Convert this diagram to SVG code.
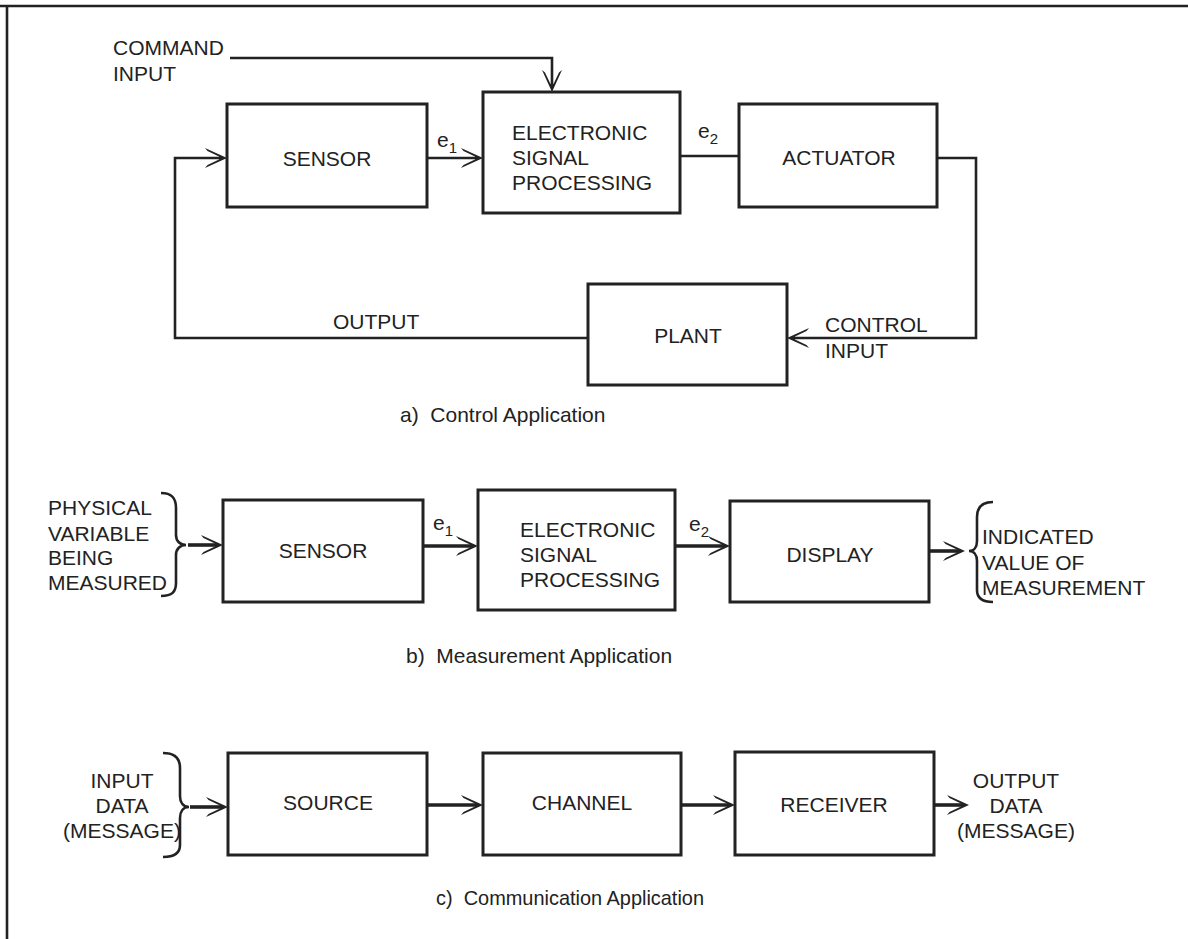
<svg xmlns="http://www.w3.org/2000/svg" width="1188" height="939" viewBox="0 0 1188 939">
<style>
text{font-family:"Liberation Sans",Arial,sans-serif;font-size:21px;fill:#222}
.cap{white-space:pre}
.box{fill:none;stroke:#222;stroke-width:3}
.ln{fill:none;stroke:#222;stroke-width:2.6}
.thk{stroke-width:3.6}
.br{fill:none;stroke:#222;stroke-width:2.6}
.sub{font-size:15px}
.c{text-anchor:middle}
</style>
<defs>
<marker id="ah" markerUnits="userSpaceOnUse" viewBox="-24 -12 26 24" markerWidth="26" markerHeight="24" refX="-6" refY="0" orient="auto">
<path d="M0,0 L-22,-10 L-19.5,-7 L-8,-1.5 L-8,1.5 L-19.5,7 L-22,10 Z" fill="#222"/>
</marker>
</defs>
<rect width="1188" height="939" fill="#fff"/>
<g id="frame" class="ln"><path d="M0,6 H1188 M7,6 V939"/></g>

<g id="connectors">
<path class="ln" d="M230,58 H552 V86" marker-end="url(#ah)"/>
<path class="ln" d="M427,158 H477" marker-end="url(#ah)"/>
<path class="ln" d="M680,156 H739"/>
<path class="ln" d="M937,158 H976 V338 H793" marker-end="url(#ah)"/>
<path class="ln" d="M588,338 H175 V158 H221" marker-end="url(#ah)"/>
<path class="ln thk" d="M188,545 H217" marker-end="url(#ah)"/>
<path class="ln thk" d="M423,546 H472" marker-end="url(#ah)"/>
<path class="ln thk" d="M675,546 H724" marker-end="url(#ah)"/>
<path class="ln thk" d="M929,551 H959" marker-end="url(#ah)"/>
<path class="ln thk" d="M190,807 H222" marker-end="url(#ah)"/>
<path class="ln thk" d="M427,805 H477" marker-end="url(#ah)"/>
<path class="ln thk" d="M681,805 H729" marker-end="url(#ah)"/>
<path class="ln thk" d="M934,805 H963" marker-end="url(#ah)"/>
</g>

<g id="labels-a">
<text x="113" y="55">COMMAND</text>
<text x="113" y="81">INPUT</text>
<text x="437" y="147">e<tspan class="sub" dy="6">1</tspan></text>
<text x="698" y="138">e<tspan class="sub" dy="6">2</tspan></text>
<text x="333" y="329">OUTPUT</text>
<text x="825" y="332">CONTROL</text>
<text x="825" y="358">INPUT</text>
<text class="cap" x="400" y="422">a)  Control Application</text>
</g>

<g id="sensor-a"><rect class="box" x="227" y="104" width="200" height="103"/><text class="c" x="327" y="166">SENSOR</text></g>
<g id="esp-a"><rect class="box" x="483" y="92" width="197" height="121"/><text x="512" y="140">ELECTRONIC</text><text x="512" y="165">SIGNAL</text><text x="512" y="190">PROCESSING</text></g>
<g id="actuator-a"><rect class="box" x="739" y="104" width="198" height="103"/><text class="c" x="839" y="165">ACTUATOR</text></g>
<g id="plant-a"><rect class="box" x="588" y="284" width="199" height="101"/><text class="c" x="688" y="343">PLANT</text></g>

<g id="input-b">
<text x="48" y="515">PHYSICAL</text>
<text x="48" y="541">VARIABLE</text>
<text x="48" y="565">BEING</text>
<text x="48" y="590">MEASURED</text>
<path class="br" d="M161,493 C172,493 176,498 176,508 L176,535 C176,541 180,545 186,545 C180,545 176,549 176,555 L176,583 C176,592 172,596 161,596"/>
</g>
<g id="sensor-b"><rect class="box" x="223" y="500" width="200" height="102"/><text class="c" x="323" y="558">SENSOR</text></g>
<g id="esp-b"><rect class="box" x="478" y="490" width="197" height="120"/><text x="520" y="537">ELECTRONIC</text><text x="520" y="562">SIGNAL</text><text x="520" y="587">PROCESSING</text></g>
<g id="display-b"><rect class="box" x="730" y="501" width="199" height="101"/><text class="c" x="830" y="562">DISPLAY</text></g>
<g id="output-b">
<path class="br" d="M993,502 C982,502 977,507 977,517 L977,541 C977,547 974,551 969,551 C974,551 977,555 977,561 L977,590 C977,598 982,602 993,602"/>
<text x="982" y="544">INDICATED</text>
<text x="982" y="570">VALUE OF</text>
<text x="982" y="595">MEASUREMENT</text>
</g>
<g id="labels-b">
<text x="433" y="530">e<tspan class="sub" dy="6">1</tspan></text>
<text x="689" y="531">e<tspan class="sub" dy="6">2</tspan></text>
<text class="cap" x="406" y="663">b)  Measurement Application</text>
</g>

<g id="input-c">
<text class="c" x="122" y="788">INPUT</text>
<text class="c" x="122" y="813">DATA</text>
<text class="c" x="122" y="838">(MESSAGE)</text>
<path class="br" d="M163,753 C174,753 180,758 180,768 L180,796 C180,802 183,807 189,807 C183,807 180,812 180,818 L180,845 C180,853 174,857 163,857"/>
</g>
<g id="source-c"><rect class="box" x="228" y="753" width="199" height="102"/><text class="c" x="328" y="810">SOURCE</text></g>
<g id="channel-c"><rect class="box" x="483" y="753" width="198" height="102"/><text class="c" x="582" y="810">CHANNEL</text></g>
<g id="receiver-c"><rect class="box" x="735" y="752" width="199" height="103"/><text class="c" x="834" y="812">RECEIVER</text></g>
<g id="output-c">
<text class="c" x="1016" y="788">OUTPUT</text>
<text class="c" x="1016" y="813">DATA</text>
<text class="c" x="1016" y="838">(MESSAGE)</text>
</g>
<g id="labels-c"><text class="cap" x="436" y="905" textLength="268" lengthAdjust="spacingAndGlyphs">c)  Communication Application</text></g>
</svg>
